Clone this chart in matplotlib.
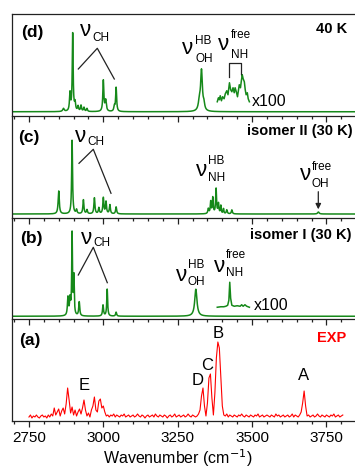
import numpy as np
import matplotlib
matplotlib.use("Agg")
import matplotlib.pyplot as plt
from matplotlib.ticker import MultipleLocator

plt.rcParams['font.family'] = ['Liberation Sans', 'DejaVu Sans']

# simulated stick spectra: position (cm-1), intensity, fwhm
d_pos = [2866, 2888, 2897, 2905, 2915, 2925, 2935, 2945, 3000, 3008, 3037, 3043, 3323, 3330, 3338]
d_int = [3, 18, 78, 8, 5, 6, 4, 3, 31, 11, 5, 24, 9, 40, 6]
d_fwhm = [6, 4, 3.5, 4, 4, 4, 4, 4, 4, 5, 4, 4, 8, 7, 6]

c_pos = [2850, 2895, 2910, 2933, 2945, 2970, 2985, 3000, 3009, 3022, 3043,
         3353, 3361, 3368, 3379, 3387, 3395, 3404, 3415, 3432, 3723]
c_int = [23, 74, 4, 14, 4, 16, 6, 16, 12, 9, 7,
         5, 12, 16, 25, 10, 8, 5, 4, 4, 2]
c_fwhm = [4.5, 3.5, 4, 4, 4, 4, 4, 4, 4, 4, 4,
          4, 3.5, 3.5, 3.5, 3.5, 3, 3, 4, 4, 6]

b_pos = [2881, 2888, 2895, 2901, 2919, 2999, 3013, 3043, 3311]
b_int = [18, 16, 82, 38, 14, 11, 27, 4, 27]
b_fwhm = [4, 4, 3, 3, 4, 4, 3.5, 4, 9]

# x100 magnified segments (already offset)
d_x100_wn = [3383, 3387, 3390, 3393, 3397, 3401, 3406, 3410, 3415, 3419, 3424, 3428, 3432, 3436, 3440,
             3443, 3447, 3451, 3454, 3457, 3461, 3464, 3467, 3470, 3474, 3477, 3480, 3484, 3487, 3491]
d_x100_int = [10, 14, 12, 16, 11, 15, 13, 18, 21, 17, 29, 22, 20, 24, 19,
              24, 20, 15, 21, 27, 24, 31, 37, 33, 30, 22, 17, 19, 13, 10]
b_x100_wn = [3383, 3395, 3405, 3412, 3418, 3422, 3425, 3428, 3432, 3440, 3450, 3460, 3465, 3470, 3476, 3482, 3491]
b_x100_int = [9, 9.5, 9.5, 10, 11, 16, 34, 18, 11, 10, 10.5, 10, 11.5, 10, 11.5, 10, 9]

# experimental spectrum, 5 cm-1 steps from 2750
exp_start = 2750
exp_int = [1, 3, 0, 2, 1, 3, 1, 0, 2, 3,
           1, 2, 0, 3, 1, 4, 2, 10, 3, 6,
           9, 2, 7, 10, 4, 14, 30, 18, 5, 11,
           3, 8, 2, 6, 9, 4, 10, 18, 8, 2,
           5, 1, 8, 12, 21, 8, 6, 17, 19, 10,
           12, 6, 2, 3, 1, 3, 2, 4, 1, 3,
           2, 1, 3, 2, 4, 1, 2, 3, 1, 2,
           3, 1, 2, 4, 2, 1, 3, 2, 0, 2,
           3, 1, 2, 3, 1, 4, 2, 1, 3, 2,
           1, 3, 2, 0, 2, 3, 1, 2, 4, 1,
           2, 3, 1, 2, 3, 1, 2, 4, 2, 1,
           3, 2, 1, 2, 4, 8, 22, 30, 12, 2,
           15, 40, 44, 20, 3, 25, 60, 76, 70, 40,
           12, 3, 2, 4, 1, 3, 2, 1, 3, 2,
           1, 3, 2, 4, 2, 1, 3, 2, 1, 3,
           2, 1, 3, 2, 4, 1, 2, 3, 1, 2,
           3, 2, 1, 3, 2, 1, 4, 2, 3, 1,
           2, 3, 1, 2, 3, 1, 2, 4, 1, 3,
           2, 1, 3, 6, 15, 27, 12, 2, 3, 1,
           2, 3, 1, 2, 4, 2, 1, 3, 2, 1,
           3, 2, 1, 3, 2, 4, 1, 2, 3, 1,
           2, 3]

W, H = 355, 468
GREEN = '#16891a'


def lorentz_sum(x, pos, inten, fwhm):
    y = np.zeros_like(x)
    for p, a, w in zip(pos, inten, fwhm):
        g = w / 2.0
        y += a * g**2 / ((x - p)**2 + g**2)
    return y


fig, axes = plt.subplots(4, 1, sharex=True, figsize=(W / 100, H / 100), dpi=100)
fig.subplots_adjust(left=11.7 / W, right=1.0, top=1 - 14 / H, bottom=1 - 421 / H, hspace=0)
ax_d, ax_c, ax_b, ax_a = axes

x = np.linspace(2692, 3846, 4000)
ax_d.plot(x, lorentz_sum(x, d_pos, d_int, d_fwhm), color=GREEN, lw=1.1)
ax_d.plot(d_x100_wn, d_x100_int, color=GREEN, lw=1.1)
ax_c.plot(x, lorentz_sum(x, c_pos, c_int, c_fwhm), color=GREEN, lw=1.1)
ax_b.plot(x, lorentz_sum(x, b_pos, b_int, b_fwhm), color=GREEN, lw=1.1)
ax_b.plot(b_x100_wn, b_x100_int, color=GREEN, lw=1.1)
exp_wn = exp_start + 5 * np.arange(len(exp_int))
ax_a.plot(exp_wn, exp_int, color='red', lw=0.8)

ax_d.set_ylim(-4, 97.75)
ax_c.set_ylim(-3.5, 98.25)
ax_b.set_ylim(-3, 98.75)
ax_a.set_ylim(-3, 98.75)

for i, ax in enumerate(axes):
    ax.set_xlim(2692, 3846)
    ax.set_yticks([])
    ax.patch.set_visible(False)
    ax.spines['right'].set_visible(False)
    if i > 0:
        ax.spines['top'].set_visible(False)
    for s in ax.spines.values():
        s.set_linewidth(0.9)
        s.set_color('#222222')
    ax.xaxis.set_major_locator(MultipleLocator(250))
    ax.xaxis.set_minor_locator(MultipleLocator(50))
    ax.tick_params(axis='x', which='major', direction='out', length=4, width=0.9,
                   color='#222222', labelsize=11, pad=3)
    ax.tick_params(axis='x', which='minor', direction='out', length=2.5, width=0.9, color='#222222')


def ftext(px, py, s, size=11, **kw):
    kw.setdefault('ha', 'center')
    kw.setdefault('va', 'center')
    fig.text(px / W, 1 - py / H, s, fontsize=size, **kw)


def fline(xs, ys):
    fig.add_artist(plt.Line2D([p / W for p in xs], [1 - p / H for p in ys], color='#222222', lw=0.9))


NU = 16
SUB = 8.5

# panel (d)
ftext(32, 32, '(d)', 12.5, fontweight='bold')
ftext(347, 29, '40 K', 10.5, fontweight='bold', ha='right')
ftext(85.5, 30, 'ν', NU)
ftext(92, 38, 'CH', SUB, ha='left')
fline([78.3, 97.3, 114.3], [69, 48.3, 79])
ftext(188, 49, 'ν', NU)
ftext(195, 41, 'HB', SUB, ha='left')
ftext(195, 59.5, 'OH', SUB, ha='left')
ftext(224, 45, 'ν', NU)
ftext(230.5, 35.5, 'free', SUB, ha='left')
ftext(230.5, 54.5, 'NH', SUB, ha='left')
fline([229, 229, 241, 241], [77, 63, 63, 74])
ftext(251.5, 101, 'x100', 11.5, ha='left')

# panel (c)
ftext(29, 137.5, '(c)', 12.5, fontweight='bold')
ftext(353, 131.5, 'isomer II (30 K)', 10.5, fontweight='bold', ha='right')
ftext(80.5, 136, 'ν', NU)
ftext(87.5, 142, 'CH', SUB, ha='left')
fline([79, 93.3, 111], [163.3, 149.3, 193.3])
ftext(201.5, 170, 'ν', NU)
ftext(208, 161, 'HB', SUB, ha='left')
ftext(208, 178, 'NH', SUB, ha='left')
ftext(305.5, 175, 'ν', NU)
ftext(312, 167, 'free', SUB, ha='left')
ftext(312, 184, 'OH', SUB, ha='left')
ax_c.annotate('', xy=(318.3 / W, 1 - 209.3 / H), xytext=(318.3 / W, 1 - 191.7 / H),
              xycoords='figure fraction', textcoords='figure fraction',
              arrowprops=dict(arrowstyle='-|>', color='#222222', lw=0.9, mutation_scale=8,
                              shrinkA=0, shrinkB=0))

# panel (b)
ftext(31.7, 239, '(b)', 12.5, fontweight='bold')
ftext(352, 234.5, 'isomer I (30 K)', 10.5, fontweight='bold', ha='right')
ftext(87, 238, 'ν', NU)
ftext(93.5, 243, 'CH', SUB, ha='left')
fline([78.3, 93.3, 107.3], [275, 247.3, 282.7])
ftext(181.5, 275.5, 'ν', NU)
ftext(188, 265, 'HB', SUB, ha='left')
ftext(188, 281.7, 'OH', SUB, ha='left')
ftext(219.5, 266.5, 'ν', NU)
ftext(226, 255.5, 'free', SUB, ha='left')
ftext(226, 273, 'NH', SUB, ha='left')
ftext(253.5, 306, 'x100', 11.5, ha='left')

# panel (a)
ftext(29.7, 340.7, '(a)', 12.5, fontweight='bold')
ftext(346.7, 338, 'EXP', 10.5, fontweight='bold', ha='right', color='red')
ftext(217.7, 334, 'B', 12)
ftext(207.5, 366, 'C', 12)
ftext(197.8, 380.8, 'D', 12)
ftext(304, 376, 'A', 12)
ftext(84, 385.5, 'E', 12)

ftext(177.5, 458, 'Wavenumber (cm$^{-1}$)', 11.5)

fig.savefig('out.png', dpi=100)
